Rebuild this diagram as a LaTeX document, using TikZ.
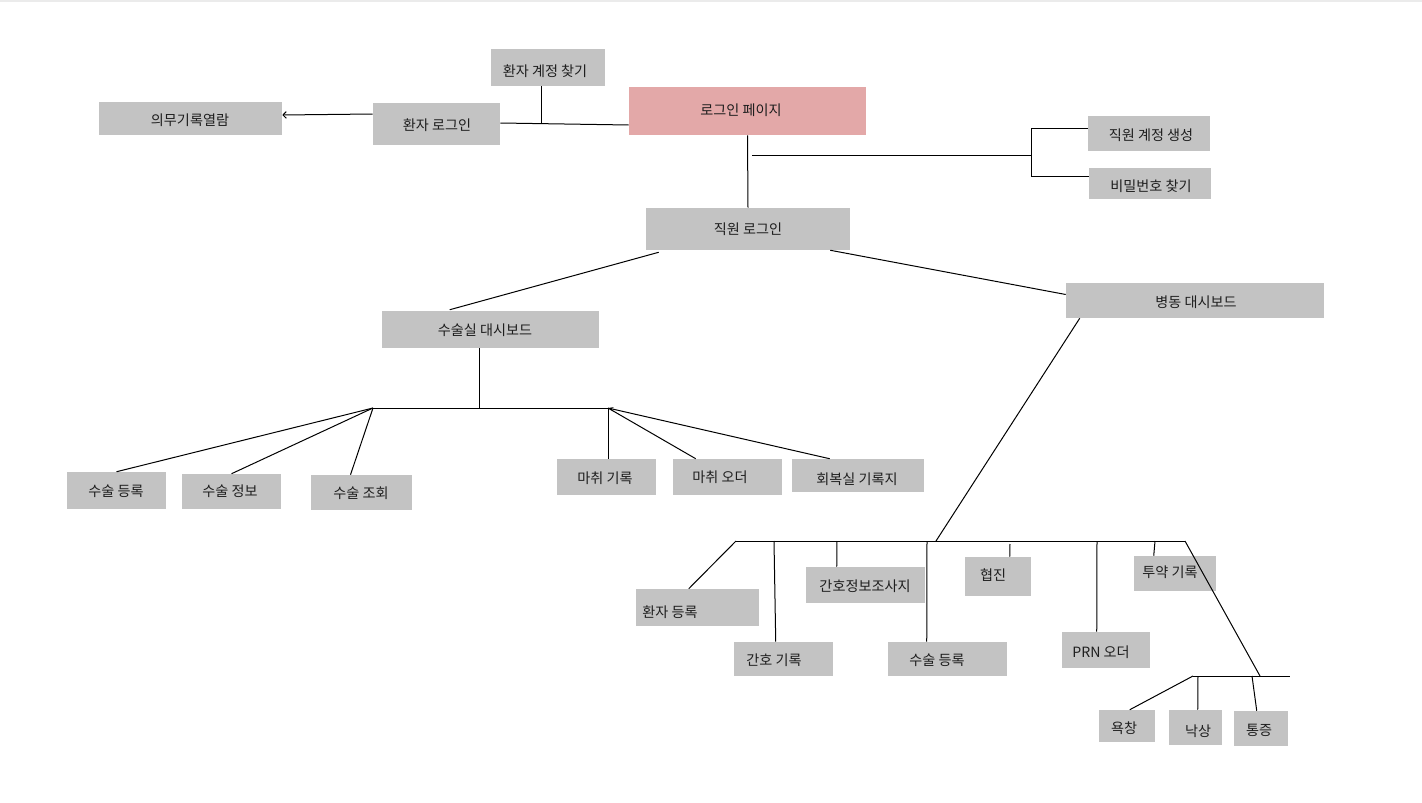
\documentclass[tikz,border=0pt]{standalone}
\usepackage{fontspec}
\setmainfont{Noto Sans CJK KR}
\usetikzlibrary{calc,arrows.meta}
\definecolor{boxgray}{HTML}{C3C3C3}
\definecolor{boxpink}{HTML}{E3A8A8}
\definecolor{txtcol}{HTML}{1E1E1E}
\tikzset{
  box/.style={rectangle, fill=boxgray, draw=none, inner sep=0pt},
  pinkbox/.style={rectangle, fill=boxpink, draw=none, inner sep=0pt},
  txt/.style={inner sep=0pt, text=txtcol, font=\fontsize{10.6pt}{12.5pt}\selectfont},
  ln/.style={draw=black, line width=0.75pt},
}
% \bx[style]{name}{x1}{y1}{x2}{y2}{tx}{ty}{text}
\newcommand{\bx}[9][box]{%
  \node[#1, minimum width={(#5-#3)*0.75pt}, minimum height={(#6-#4)*0.75pt}] (#2) at ({(#3+#5)/2},{(#4+#6)/2}) {};
  \node[txt] (#2-t) at (#7,#8) {#9};
}
\begin{document}
\begin{tikzpicture}[x=0.75pt,y=-0.75pt]
\useasboundingbox (0,0) rectangle (1422,803);
\fill[white] (0,0) rectangle (1422,803);
\draw[color=black!8, line width=1.5pt] (0,0.8) -- (1422,0.8);

% boxes
\bx{pfind}{491}{49}{605}{86}{545}{71}{환자 계정 찾기}
\bx[pinkbox]{login}{629}{87}{866}{135}{741}{110}{로그인 페이지}
\bx{emr}{99}{102}{282}{135}{190}{120}{의무기록열람}
\bx{plogin}{373}{103}{500}{145}{437}{125}{환자 로그인}
\bx{screate}{1088}{116}{1210}{151}{1151}{135}{직원 계정 생성}
\bx{pw}{1089}{168}{1211}{199}{1151}{186}{비밀번호 찾기}
\bx{slogin}{646}{208}{850}{250}{748}{229}{직원 로그인}
\bx{ward}{1066}{283}{1324}{318}{1196}{302}{병동 대시보드}
\bx{ordash}{382}{311}{599}{348}{485}{330}{수술실 대시보드}
\bx{sreg}{67}{472}{166}{509}{116}{491}{수술 등록}
\bx{sinfo}{182}{474}{281}{509}{230}{491}{수술 정보}
\bx{squery}{311}{475}{412}{510}{361}{493}{수술 조회}
\bx{anrec}{557}{459}{656}{495}{605}{478}{마취 기록}
\bx{anord}{673}{459}{782}{495}{720}{477}{마취 오더}
\bx{recov}{792}{459}{924}{492}{857}{479}{회복실 기록지}
\bx{preg}{636}{589}{759}{626}{670}{612}{환자 등록}
\bx{nrec}{734}{642}{833}{676}{774}{660}{간호 기록}
\bx{nsurvey}{806}{567}{925}{603}{865}{586}{간호정보조사지}
\bx{sreg2}{888}{642}{1007}{676}{937}{660}{수술 등록}
\bx{consult}{965}{557}{1031}{596}{993}{575}{협진}
\bx{prn}{1062}{632}{1150}{668}{1101}{652}{PRN 오더}
\bx{med}{1134}{556}{1216}{591}{1170}{572}{투약 기록}
\bx{bed}{1099}{710}{1155}{742}{1124}{728}{욕창}
\bx{fall}{1169}{710}{1222}{745}{1198}{731}{낙상}
\bx{pain}{1234}{711}{1288}{746}{1259}{730}{통증}

% top part
\draw[ln,-{Straight Barb[length=2.5pt,width=5pt]}] ($(plogin.west)+(0,-10)$) -- ($(emr.east)+(0,-3.5)$);
\draw[ln] ($(plogin.east)+(0,-1)$) -- ($(login.west)+(0,14)$);
\coordinate (j1) at (541,123.5);
\draw[ln] (pfind.south -| j1) -- (j1);
\draw[ln] (login.south) -- (slogin.north);

\coordinate (s0) at (752,155);
\coordinate (s1) at (1031,155);
\coordinate (s2) at (1031,128);
\coordinate (s3) at (1031,176);
\draw[ln] (s0) -- (s1);
\draw[ln] (s2) -- (s3);
\draw[ln] (s2) -- (screate.west |- s2);
\draw[ln] (s3) -- (pw.west |- s3);

% staff login branches
\draw[ln] ($(slogin.south west)+(13,2)$) -- ($(ordash.north west)+(68,-1)$);
\draw[ln] ($(slogin.south east)+(-20,0)$) -- ($(ward.west)+(0,-6)$);

% operating room dashboard
\coordinate (oj) at (479,408);
\coordinate (oL) at (373,408);
\coordinate (oR) at (608,408);
\draw[ln] (ordash.south -| oj) -- (oj);
\draw[ln] (oL) -- (oR);
\draw[ln] (oL) -- (sreg.north);
\draw[ln] (oL) -- (sinfo.north);
\draw[ln] (oL) -- ($(squery.north)+(-11,0)$);
\draw[ln] (oR) -- (anrec.north -| oR);
\draw[ln] (oR) -- ($(anord.north west)+(23,0)$);
\draw[ln,{Stealth[length=4pt,width=3pt]}-] (oR) -- ($(recov.north west)+(38,0)$);

% ward dashboard
\coordinate (wj) at (936,541);
\coordinate (wL) at (736,541);
\coordinate (wR) at (1185,541);
\coordinate (w2) at (774,541);
\coordinate (w3) at (837,541);
\coordinate (w4) at (927,541);
\coordinate (w5) at (1010,544);
\coordinate (w6) at (1097,541);
\coordinate (w7) at (1155,541);
\draw[ln] ($(ward.south west)+(14,0)$) -- (wj);
\draw[ln] (wL) -- (wR);
\draw[ln] (wL) -- ($(preg.north west)+(53,0)$);
\draw[ln] (w2) -- ($(nrec.north west)+(42,0)$);
\draw[ln] (w3) -- ($(nsurvey.north west)+(31,0)$);
\draw[ln] (w4) -- ($(sreg2.north west)+(39,0)$);
\draw[ln] (w5) -- ($(consult.north west)+(45,0)$);
\draw[ln] (w6) -- ($(prn.north west)+(35,0)$);
\draw[ln] (w7) -- ($(med.north west)+(20,0)$);

% lower branch
\coordinate (lj) at (1260,676);
\coordinate (l0) at (1193,676);
\coordinate (l1) at (1290,676);
\coordinate (l2) at (1198,676);
\coordinate (l3) at (1252,676);
\draw[ln] (wR) -- (lj);
\draw[ln] (l0) -- (l1);
\draw[ln] (l0) -- ($(bed.north west)+(31,0)$);
\draw[ln] (l2) -- ($(fall.north west)+(29,0)$);
\draw[ln] (l3) -- ($(pain.north west)+(23,0)$);
\end{tikzpicture}
\end{document}
